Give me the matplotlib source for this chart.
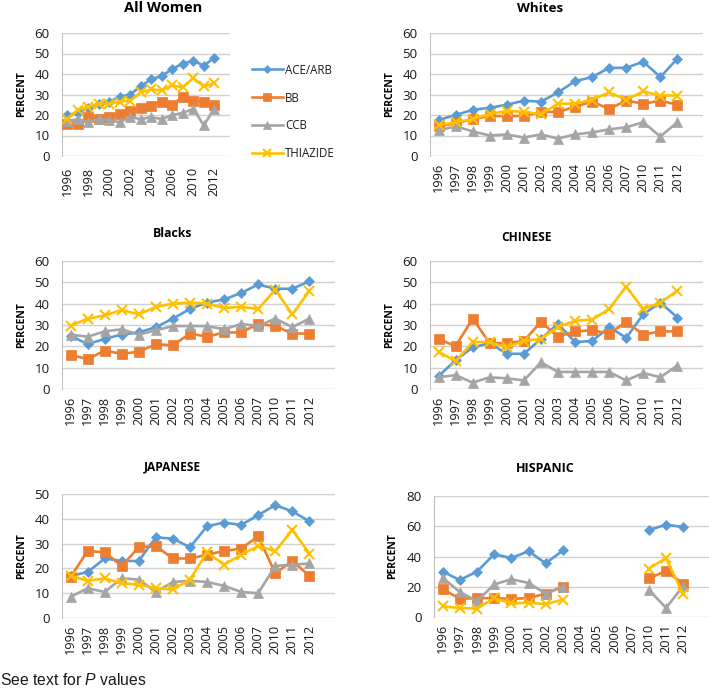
import numpy as np
import matplotlib
matplotlib.use('Agg')
import matplotlib.pyplot as plt

plt.rcParams['font.family'] = ['Open Sans', 'Liberation Sans', 'DejaVu Sans']
plt.rcParams['mathtext.fontset'] = 'custom'
plt.rcParams['mathtext.it'] = 'Liberation Sans:italic'
plt.rcParams['mathtext.rm'] = 'Liberation Sans'

years = ['1996', '1997', '1998', '1999', '2000', '2001', '2002', '2003',
         '2004', '2005', '2006', '2007', '2010', '2011', '2012']
series_names = ['ACE/ARB', 'BB', 'CCB', 'THIAZIDE']
nan = np.nan

# All Women
all_ace = [20, 21, 23.5, 25.5, 26.5, 29, 30, 34, 37.5, 39, 42.5, 45, 46.5, 44, 48]
all_bb = [15.5, 15.5, 19, 18, 19, 20.5, 22, 23.5, 24.5, 26.5, 25, 29, 27, 26.5, 25]
all_ccb = [17, 18, 16.5, 18, 17.5, 16.5, 19, 18, 19, 18, 20, 21, 23, 15, 23]
all_thz = [18, 22.5, 24, 25.5, 25.5, 26.5, 27, 31, 32.5, 32, 34.5, 33.5, 38, 34, 35.5]

# Whites
wht_ace = [17.5, 20, 22.5, 23.5, 25, 27, 26.5, 31, 36.5, 38.5, 43, 43, 46, 38.5, 47.5]
wht_bb = [14.5, 16, 18, 19.5, 19.5, 19.5, 21.5, 21.5, 24, 26.5, 23, 27, 25.5, 27, 25]
wht_ccb = [12.5, 14.5, 12, 10, 10.5, 9, 10.5, 8.5, 10.5, 11.5, 13, 14, 16.5, 9.5, 16.5]
wht_thz = [15, 16.5, 18, 20.5, 22, 21.5, 20.5, 25.5, 25.5, 27.5, 31, 27.5, 31.5, 29.5, 29.5]

# Blacks
blk_ace = [25, 21, 23.5, 25.5, 26.5, 29, 33, 37.5, 40.5, 42, 45, 49, 47, 47, 50.5]
blk_bb = [16, 14, 18, 16.5, 17.5, 21, 20.5, 26, 24.5, 26.5, 26.5, 30.5, 29.5, 26, 26]
blk_ccb = [25.5, 24.5, 27, 28, 25.5, 27.5, 29.5, 29.5, 29.5, 28, 30.5, 29.5, 33, 29, 33]
blk_thz = [29.5, 33, 34.5, 37, 35, 38.5, 40, 40.5, 40, 38, 38.5, 37.5, 46.5, 35, 46]

# Chinese
chn_ace = [6, 13.5, 19.5, 21.5, 16.5, 16.5, 23.5, 30.5, 22, 22.5, 29, 24, 35, 40.5, 33.5]
chn_bb = [23.5, 20, 33, 21.5, 21.5, 22.5, 31.5, 24.5, 27, 27.5, 26, 31.5, 25.5, 27, 27]
chn_ccb = [5.5, 6.5, 3, 5.5, 5, 4, 12.5, 8, 8, 8, 8, 4, 7.5, 5.5, 11]
chn_thz = [17.5, 13, 22, 22, 19.5, 22.5, 23.5, 29, 32, 32.5, 37.5, 48, 37.5, 40.5, 46]

# Japanese
jpn_ace = [17, 18.5, 24, 23, 23, 32.5, 32, 28.5, 37, 38.5, 37.5, 41.5, 45.5, 43, 39]
jpn_bb = [16.5, 27, 26.5, 21, 28.5, 29, 24, 24, 25.5, 27, 28, 33, 18, 23, 17]
jpn_ccb = [8.5, 12, 10.5, 16, 15.5, 10.5, 14.5, 15, 14.5, 13, 10.5, 10, 21, 21.5, 22]
jpn_thz = [17, 15, 16, 14, 13.5, 12, 11.5, 15.5, 26.5, 21.5, 25.5, 29, 27, 35.5, 26]

# Hispanic
his_ace = [30, 24.5, 30, 41.5, 39, 43.5, 35.5, 44, nan, nan, nan, nan, 57.5, 61, 59.5]
his_bb = [18.5, 12, 12.5, 12.5, 12, 12.5, 15.5, 20, nan, nan, nan, nan, 25.5, 30.5, 22]
his_ccb = [26, 16.5, 10.5, 21.5, 25, 22.5, 15.5, 20, nan, nan, nan, nan, 18, 6, 20.5]
his_thz = [7, 6, 5.5, 12.5, 9, 9.5, 8.5, 11.5, nan, nan, nan, nan, 32, 39, 15]

colors = ['#5B9BD5', '#ED7D31', '#A5A5A5', '#FFC000']
markers = ['D', 's', '^', 'x']
msizes = [5.5, 7, 7, 6.5]

W, H = 709, 689
fig = plt.figure(figsize=(W / 100, H / 100), dpi=100)


def px_axes(x0, y0, x1, y1):
    return fig.add_axes([x0 / W, 1 - y1 / H, (x1 - x0) / W, (y1 - y0) / H])


panels = [
    dict(title='All Women', data=[all_ace, all_bb, all_ccb, all_thz], box=(62, 33, 230, 156),
         ymax=60, step=10, tx=163, ty=8, tsize=10.5, lx=22, every=2, xpad=8),
    dict(title='Whites', data=[wht_ace, wht_bb, wht_ccb, wht_thz], box=(430, 33, 703, 156),
         ymax=60, step=10, tx=540, ty=8, tsize=9.6, lx=390, every=1, xpad=5),
    dict(title='Blacks', data=[blk_ace, blk_bb, blk_ccb, blk_thz], box=(62, 261, 335, 389),
         ymax=60, step=10, tx=173, ty=234, tsize=8.8, lx=22, every=1, xpad=5),
    dict(title='CHINESE', data=[chn_ace, chn_bb, chn_ccb, chn_thz], box=(430, 261, 703, 389),
         ymax=60, step=10, tx=527, ty=237, tsize=8.6, lx=390, every=1, xpad=5),
    dict(title='JAPANESE', data=[jpn_ace, jpn_bb, jpn_ccb, jpn_thz], box=(62, 494, 335, 618),
         ymax=50, step=10, tx=172, ty=467, tsize=8.6, lx=22, every=1, xpad=5),
    dict(title='HISPANIC', data=[his_ace, his_bb, his_ccb, his_thz], box=(434, 496, 709, 617),
         ymax=80, step=20, tx=545, ty=468, tsize=9, lx=393, every=1, xpad=5),
]

x = np.arange(len(years))
legend_handles = None
for p in panels:
    ax = px_axes(*p['box'])
    handles = []
    for vals, c, m, ms, name in zip(p['data'], colors, markers, msizes, series_names):
        h, = ax.plot(x, vals, color=c, marker=m, markersize=ms, lw=1.9,
                     markeredgewidth=1.5 if m == 'x' else 0.5, markeredgecolor=c,
                     label=name, zorder=3)
        handles.append(h)
    if legend_handles is None:
        legend_handles = handles
    ax.set_xlim(-0.5, 15.5)
    ax.set_ylim(0, p['ymax'])
    ax.set_yticks(np.arange(0, p['ymax'] + 1, p['step']))
    ax.yaxis.grid(True, color='#D0D0D0', lw=1.0)
    ax.set_axisbelow(True)
    for s in ['top', 'right', 'bottom']:
        ax.spines[s].set_visible(False)
    ax.spines['left'].set_color('#C0C0C0')
    ax.tick_params(axis='y', length=0, labelsize=9.6, pad=9, labelcolor='#1a1a1a')
    idx = x[::p['every']]
    ax.set_xticks(idx)
    ax.set_xticklabels([years[i] for i in idx], rotation=90)
    ax.tick_params(axis='x', length=0, labelsize=9.2, pad=p['xpad'], labelcolor='#1a1a1a')
    fig.text(p['tx'] / W, 1 - p['ty'] / H, p['title'], ha='center', va='center',
             fontsize=p['tsize'], fontweight='bold', color='#000000')
    cy = (p['box'][1] + p['box'][3]) / 2
    fig.text(p['lx'] / W, 1 - cy / H, 'PERCENT', rotation=90, ha='center', va='center',
             fontsize=7.5, fontweight='bold', color='#000000')

fig.legend(legend_handles, series_names, loc='center left',
           bbox_to_anchor=(246 / W, 1 - 112 / H), frameon=False, fontsize=8.3,
           handlelength=2.7, labelspacing=1.3, handletextpad=0.2, borderpad=0,
           markerscale=0.8, labelcolor='#1a1a1a')

fig.text(0 / W, 1 - 680 / H, 'See text for $\\mathit{P}$ values', ha='left', va='center',
         fontsize=11.3, color='#1a1a1a', family='Liberation Sans')

fig.savefig('out.png', dpi=100)
